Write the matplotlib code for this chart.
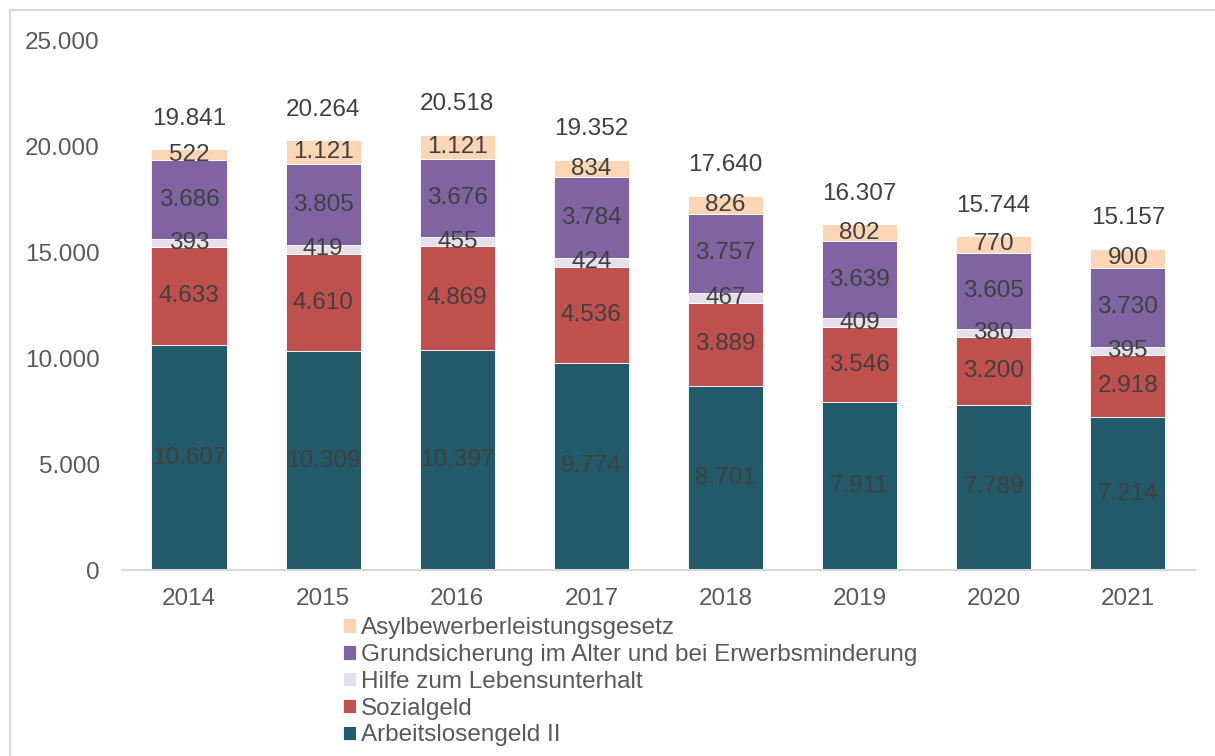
import numpy as np
import matplotlib.pyplot as plt
from matplotlib.patches import Rectangle

plt.rcParams['font.family'] = ['Liberation Sans', 'DejaVu Sans']

years = ['2014', '2015', '2016', '2017', '2018', '2019', '2020', '2021']
alg2 = [10607, 10309, 10397, 9774, 8701, 7911, 7789, 7214]
sozialgeld = [4633, 4610, 4869, 4536, 3889, 3546, 3200, 2918]
hlu = [393, 419, 455, 424, 467, 409, 380, 395]
grundsicherung = [3686, 3805, 3676, 3784, 3757, 3639, 3605, 3730]
asyl = [522, 1121, 1121, 834, 826, 802, 770, 900]
totals = [19841, 20264, 20518, 19352, 17640, 16307, 15744, 15157]

series = [
    ('Arbeitslosengeld II', alg2, '#235A69'),
    ('Sozialgeld', sozialgeld, '#C0504D'),
    ('Hilfe zum Lebensunterhalt', hlu, '#E6E0EC'),
    ('Grundsicherung im Alter und bei Erwerbsminderung', grundsicherung, '#8064A2'),
    ('Asylbewerberleistungsgesetz', asyl, '#FCD5B5'),
]

FS = 17.5

def de_fmt(v):
    return f'{v:,}'.replace(',', '.')

fig = plt.figure(figsize=(12.15, 7.56), dpi=100)
ax = fig.add_axes([0.1004, 0.246, 0.883, 0.701])

# light grey frame around the chart area
fig.patches.append(Rectangle((10 / 1215, -0.01), 1.1, 1 - 10 / 756 + 0.01,
                             transform=fig.transFigure, fill=False,
                             edgecolor='#D9D9D9', linewidth=1.5))

x = np.arange(len(years))
bottom = np.zeros(len(years))
handles = []
for name, vals, color in series:
    vals = np.array(vals)
    b = ax.bar(x, vals, 0.56, bottom=bottom, color=color, label=name,
               edgecolor='white', linewidth=0.6)
    handles.append(b)
    for xi, v, b0 in zip(x, vals, bottom):
        ax.text(xi, b0 + v / 2, de_fmt(int(v)), ha='center', va='center',
                fontsize=FS, color='#404040')
    bottom += vals

for xi, t, top in zip(x, totals, bottom):
    ax.text(xi, top + 1450, de_fmt(t), ha='center', va='center',
            fontsize=FS, color='#404040')

ax.set_xlim(-0.5, len(years) - 0.5)
ax.set_ylim(0, 25000)
ax.set_yticks(range(0, 25001, 5000))
ax.set_yticklabels([de_fmt(v) for v in range(0, 25001, 5000)])
ax.set_xticks(x)
ax.set_xticklabels(years)
ax.tick_params(axis='both', length=0, labelsize=FS, colors='#595959')
ax.tick_params(axis='y', pad=16)
ax.tick_params(axis='x', pad=13)
for side in ['top', 'right', 'left']:
    ax.spines[side].set_visible(False)
ax.spines['bottom'].set_color('#D9D9D9')
ax.spines['bottom'].set_linewidth(1.5)

leg = fig.legend(handles[::-1], [s[0] for s in series][::-1],
                 loc='upper left', bbox_to_anchor=(343 / 1215, 1 - 617 / 756),
                 frameon=False, fontsize=FS, handlelength=0.55, handleheight=0.55,
                 handletextpad=0.2, labelspacing=0.2, borderaxespad=0, borderpad=0)
for t in leg.get_texts():
    t.set_color('#595959')

fig.savefig('out.png', dpi=100)
